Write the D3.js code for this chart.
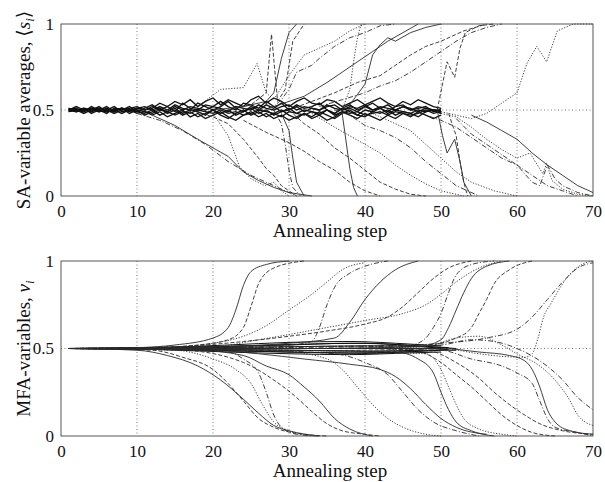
<!DOCTYPE html>
<html>
<head>
<meta charset="utf-8">
<script src="https://cdn.jsdelivr.net/npm/d3@7.9.0/dist/d3.min.js"></script>
<style>
  body { margin: 0; background: #fff; }
  svg text { font-family: "Liberation Serif", Tinos, "Times New Roman", Times, "DejaVu Serif", serif; fill: #111; }
</style>
</head>
<body>
<svg id="chart" width="605" height="482"></svg>
<script>
// x ticks and y ticks shared by both panels
const xTicks = [0, 10, 20, 30, 40, 50, 60, 70];
const yTicks = [0, 0.5, 1];

// SA: noisy band values at steps 1..50
const saBandSteps = d3.range(1, 51);
const saBand = [
  [0.50,0.51,0.49,0.52,0.50,0.48,0.51,0.50,0.52,0.49,0.51,0.53,0.50,0.52,0.49,0.54,0.51,0.50,0.53,0.52,0.55,0.52,0.50,0.54,0.53,0.51,0.55,0.52,0.49,0.50,0.53,0.51,0.52,0.54,0.50,0.48,0.51,0.53,0.50,0.52,0.54,0.51,0.49,0.52,0.53,0.50,0.52,0.51,0.50,0.49],
  [0.49,0.50,0.51,0.48,0.50,0.52,0.49,0.51,0.48,0.50,0.47,0.49,0.51,0.48,0.50,0.47,0.49,0.46,0.48,0.50,0.47,0.45,0.48,0.50,0.47,0.49,0.46,0.48,0.50,0.47,0.45,0.48,0.46,0.49,0.47,0.45,0.48,0.50,0.47,0.46,0.49,0.48,0.50,0.47,0.49,0.48,0.46,0.49,0.50,0.48],
  [0.51,0.49,0.50,0.51,0.49,0.50,0.48,0.50,0.51,0.52,0.50,0.51,0.54,0.52,0.55,0.53,0.56,0.52,0.55,0.57,0.53,0.56,0.54,0.52,0.56,0.58,0.54,0.57,0.55,0.52,0.55,0.57,0.54,0.53,0.56,0.55,0.52,0.54,0.56,0.53,0.55,0.57,0.54,0.52,0.55,0.53,0.56,0.54,0.52,0.51],
  [0.50,0.52,0.50,0.49,0.51,0.50,0.52,0.49,0.50,0.48,0.49,0.47,0.49,0.46,0.48,0.50,0.46,0.48,0.45,0.47,0.49,0.46,0.44,0.47,0.49,0.46,0.48,0.45,0.47,0.44,0.46,0.48,0.45,0.47,0.44,0.46,0.49,0.47,0.45,0.48,0.46,0.44,0.47,0.45,0.48,0.46,0.49,0.47,0.45,0.47],
  [0.50,0.49,0.51,0.50,0.52,0.49,0.50,0.51,0.49,0.51,0.52,0.50,0.52,0.50,0.53,0.51,0.50,0.54,0.52,0.50,0.52,0.55,0.51,0.49,0.52,0.50,0.53,0.51,0.54,0.50,0.52,0.49,0.51,0.50,0.52,0.53,0.50,0.51,0.49,0.52,0.50,0.51,0.53,0.50,0.52,0.51,0.49,0.51,0.50,0.50],
  [0.49,0.50,0.48,0.50,0.49,0.51,0.50,0.48,0.50,0.49,0.48,0.50,0.47,0.49,0.51,0.48,0.50,0.49,0.47,0.50,0.48,0.50,0.47,0.49,0.51,0.48,0.50,0.47,0.49,0.51,0.48,0.50,0.49,0.47,0.50,0.48,0.51,0.49,0.47,0.50,0.49,0.51,0.48,0.50,0.49,0.48,0.50,0.49,0.50,0.48],
  [0.51,0.50,0.50,0.49,0.51,0.50,0.49,0.51,0.50,0.51,0.50,0.52,0.51,0.49,0.52,0.50,0.52,0.51,0.50,0.52,0.51,0.49,0.52,0.51,0.50,0.53,0.51,0.50,0.52,0.53,0.50,0.52,0.51,0.50,0.53,0.51,0.50,0.52,0.51,0.53,0.50,0.52,0.51,0.50,0.52,0.50,0.51,0.52,0.49,0.50],
  [0.50,0.50,0.49,0.51,0.50,0.49,0.50,0.51,0.50,0.50,0.49,0.48,0.50,0.49,0.47,0.49,0.48,0.50,0.49,0.48,0.50,0.48,0.49,0.47,0.48,0.50,0.49,0.48,0.46,0.49,0.48,0.47,0.49,0.48,0.50,0.47,0.49,0.48,0.49,0.47,0.48,0.49,0.47,0.49,0.48,0.47,0.48,0.50,0.48,0.49]
];

// SA: variables leaving the band, [step, value]
const saPaths = [
  [[20,0.5],[24,0.52],[27,0.55],[28,0.6],[29,0.8],[30,0.95],[31,1]],
  [[22,0.5],[25,0.53],[27,0.6],[27.7,0.94],[28.5,0.55],[29.5,0.62],[30.5,0.9],[32,1]],
  [[18,0.52],[21,0.62],[24,0.63],[25.8,0.77],[27,0.6],[28,0.56],[30,0.7],[32,0.82],[34,0.86],[36,0.9],[38,0.96],[40,1]],
  [[26,0.5],[28,0.52],[29,0.56],[30,0.62],[31,0.72],[33,0.76],[34,0.8],[36,0.87],[38,0.92],[40,0.95],[42,0.99],[44,1]],
  [[28,0.52],[30,0.55],[32,0.58],[35,0.66],[37,0.72],[39,0.78],[41,0.84],[43,0.9],[45,0.95],[47,1]],
  [[30,0.5],[33,0.55],[36,0.6],[39,0.66],[42,0.7],[44,0.76],[46,0.82],[48,0.87],[50,0.9],[53,0.96],[56,1]],
  [[37,0.5],[38,0.62],[38.5,0.78],[39,0.92],[39.5,1]],
  [[34,0.52],[37,0.56],[40,0.6],[42,0.64],[44,0.67],[46,0.72],[48,0.78],[50,0.84],[52,0.9],[54,0.95],[56,0.98],[58,1]],
  [[38,0.53],[40,0.65],[41,0.82],[42,0.88],[43,0.92],[44,0.9],[46,0.95],[48,0.98],[50,1]],
  [[49.5,0.5],[50.8,0.78],[51.8,0.69],[52.5,0.86],[53.2,0.95],[55,0.99],[57,1]],
  [[50,0.49],[52,0.47],[54,0.45],[56,0.48],[58,0.54],[60,0.6],[61.3,0.77],[62.6,0.87],[63.9,0.78],[65.3,0.96],[67.4,1],[70,1]],
  [[10,0.48],[13,0.44],[16,0.38],[19,0.3],[22,0.2],[25,0.12],[27,0.08],[29,0.04],[31,0]],
  [[12,0.47],[15,0.41],[18,0.33],[20,0.28],[22,0.23],[24,0.14],[26,0.09],[28,0.05],[30,0.02],[33,0]],
  [[17,0.5],[20,0.46],[22,0.42],[24,0.33],[26,0.22],[27,0.16],[28,0.12],[29,0.06],[31,0]],
  [[20,0.48],[22,0.35],[23.5,0.17],[25,0.1],[26.8,0.06],[28,0.08],[29,0.03],[30,0]],
  [[28,0.5],[29,0.42],[29.5,0.3],[30,0.15],[30.5,0.05],[31.5,0]],
  [[29,0.48],[30,0.38],[30.5,0.22],[31,0.08],[32,0]],
  [[30,0.5],[32,0.42],[34,0.36],[36,0.28],[38,0.22],[40,0.15],[42,0.08],[44,0.04],[46,0.01],[48,0]],
  [[33,0.48],[36,0.4],[38,0.35],[40,0.3],[42,0.25],[44,0.18],[46,0.12],[48,0.07],[50,0.03],[53,0]],
  [[36,0.5],[38,0.47],[40,0.41],[42,0.38],[44,0.34],[46,0.28],[48,0.2],[50,0.13],[52,0.06],[55,0]],
  [[37,0.48],[37.5,0.32],[38,0.16],[38.5,0.05],[39,0]],
  [[24,0.44],[27,0.37],[30,0.31],[32,0.26],[34,0.2],[36,0.15],[38,0.08],[40,0.03],[42,0]],
  [[40,0.5],[42,0.46],[44,0.42],[46,0.38],[48,0.3],[50,0.22],[52,0.14],[54,0.08],[57,0.03],[60,0]],
  [[46,0.5],[48,0.47],[50,0.44],[52,0.4],[54,0.34],[56,0.28],[58,0.22],[60,0.18],[62,0.12],[64,0.06],[66,0.03],[68,0]],
  [[49.5,0.5],[50.2,0.35],[50.8,0.25],[51.8,0.33],[52.5,0.2],[53,0.08],[54,0]],
  [[51,0.48],[52,0.35],[52.5,0.2],[53,0.08],[53.5,0]],
  [[50,0.48],[52,0.46],[54,0.4],[56,0.33],[58,0.27],[60,0.22],[61.7,0.25],[63.4,0.13],[63.9,0.19],[64.6,0.09],[66,0.04],[68,0.01],[70,0]],
  [[52,0.45],[54,0.36],[56,0.3],[58,0.24],[60,0.18],[62,0.08],[63,0.06],[64,0.18],[65,0.1],[66,0.06],[68,0.02],[70,0]],
  [[54,0.47],[56,0.43],[58,0.38],[60,0.33],[62,0.25],[64,0.18],[66,0.12],[68,0.06],[70,0.02]]
];

// MFA: smooth band near 0.5
const mfaBand = [
  [[1,0.5],[10,0.5],[20,0.505],[30,0.51],[40,0.515],[48,0.51],[52,0.5]],
  [[1,0.5],[10,0.5],[20,0.495],[30,0.49],[40,0.485],[48,0.49],[52,0.49]],
  [[1,0.5],[10,0.502],[20,0.51],[30,0.52],[38,0.53],[45,0.52],[50,0.5]],
  [[1,0.5],[10,0.498],[20,0.49],[30,0.48],[38,0.475],[45,0.48],[50,0.49]],
  [[1,0.5],[12,0.505],[22,0.52],[30,0.535],[38,0.54],[46,0.525],[50,0.515]],
  [[1,0.5],[12,0.495],[22,0.48],[30,0.47],[38,0.465],[46,0.475],[50,0.48]],
  [[1,0.5],[15,0.5],[25,0.5],[35,0.5],[45,0.5],[50,0.5]],
  [[1,0.5],[14,0.503],[24,0.515],[32,0.525],[40,0.53],[47,0.515],[51,0.505]],
  [[1,0.5],[14,0.497],[24,0.485],[32,0.478],[40,0.472],[47,0.485],[51,0.495]]
];

// MFA: variables, [step, value]
const mfaPaths = [
  [[1,0.5],[10,0.505],[15,0.52],[20,0.56],[22,0.62],[23,0.72],[24,0.86],[25,0.94],[27,0.98],[30,1]],
  [[1,0.5],[12,0.505],[18,0.52],[22,0.55],[24,0.62],[25,0.74],[26,0.87],[28,0.96],[32,1]],
  [[1,0.5],[15,0.51],[20,0.53],[24,0.57],[27,0.63],[30,0.72],[33,0.81],[35,0.88],[37,0.95],[40,0.99]],
  [[1,0.5],[20,0.51],[30,0.52],[33,0.54],[34,0.62],[35,0.75],[36,0.85],[38,0.93],[40,0.97],[43,1]],
  [[1,0.5],[20,0.51],[30,0.53],[36,0.56],[38,0.65],[40,0.78],[42,0.88],[44,0.95],[47,1]],
  [[1,0.5],[15,0.51],[24,0.54],[30,0.57],[35,0.6],[40,0.64],[43,0.68],[45,0.74],[47,0.82],[49,0.9],[51,0.96],[54,1]],
  [[1,0.5],[20,0.51],[26,0.55],[35,0.62],[40,0.66],[45,0.7],[48,0.75],[50,0.81],[52,0.88],[55,0.96],[58,1]],
  [[1,0.5],[30,0.51],[46,0.52],[48,0.56],[49,0.62],[50,0.7],[51,0.82],[52,0.92],[54,0.98],[57,1]],
  [[1,0.5],[30,0.5],[47,0.51],[50,0.55],[51,0.62],[52,0.72],[53,0.82],[54,0.9],[56,0.97],[59,1]],
  [[1,0.5],[30,0.51],[48,0.52],[52,0.56],[54,0.62],[55,0.7],[56,0.78],[57,0.87],[59,0.95],[62,1]],
  [[1,0.5],[40,0.5],[50,0.5],[55,0.47],[58,0.455],[61,0.45],[62,0.47],[62.7,0.55],[63.5,0.68],[64.5,0.76],[66.5,0.9],[68.5,0.98],[70,1]],
  [[1,0.5],[40,0.51],[50,0.53],[56,0.56],[60,0.61],[62,0.68],[64,0.78],[66,0.88],[68,0.96],[70,0.99]],
  [[1,0.5],[10,0.49],[14,0.46],[18,0.4],[21,0.32],[24,0.21],[26,0.13],[28,0.06],[30,0.03],[34,0]],
  [[1,0.5],[12,0.49],[16,0.45],[20,0.38],[22,0.3],[24,0.2],[26,0.1],[28,0.05],[32,0.01],[35,0]],
  [[1,0.5],[15,0.49],[20,0.44],[23,0.38],[25,0.3],[26.5,0.18],[28,0.08],[30,0.03],[33,0]],
  [[1,0.5],[15,0.495],[22,0.48],[24,0.44],[26,0.36],[27,0.25],[28,0.12],[29,0.05],[31,0.01],[34,0]],
  [[1,0.5],[18,0.49],[24,0.46],[27,0.4],[30,0.35],[32,0.28],[34,0.2],[36,0.1],[38,0.04],[41,0]],
  [[1,0.5],[16,0.49],[24,0.42],[28,0.32],[31,0.22],[33,0.14],[35,0.07],[37,0.03],[40,0.01],[42,0]],
  [[1,0.5],[20,0.49],[30,0.48],[35,0.44],[37,0.38],[39,0.28],[41,0.18],[43,0.1],[45,0.05],[48,0.01],[50,0]],
  [[1,0.5],[25,0.49],[36,0.47],[40,0.42],[43,0.35],[45,0.25],[47,0.15],[49,0.08],[52,0.03],[55,0]],
  [[1,0.5],[30,0.49],[44,0.48],[47,0.44],[49,0.36],[50,0.25],[51,0.15],[52,0.08],[54,0.03],[57,0]],
  [[1,0.5],[30,0.49],[47,0.48],[50,0.42],[52,0.35],[54,0.28],[56,0.2],[58,0.12],[60,0.06],[62,0.02],[65,0]],
  [[1,0.5],[30,0.49],[48,0.47],[50,0.38],[51,0.28],[52,0.18],[53,0.1],[55,0.04],[58,0.01],[60,0]],
  [[1,0.5],[35,0.5],[50,0.49],[54,0.44],[58,0.4],[60,0.36],[62,0.3],[63,0.2],[64,0.1],[65,0.05],[68,0.02],[70,0]],
  [[1,0.5],[35,0.5],[50,0.5],[55,0.48],[59,0.46],[61,0.43],[62,0.38],[63,0.28],[64,0.15],[65,0.08],[67,0.03],[70,0.01]],
  [[1,0.5],[35,0.5],[48,0.49],[52,0.42],[55,0.33],[57,0.25],[59,0.18],[61,0.12],[63,0.07],[66,0.03],[70,0.01]],
  [[1,0.5],[35,0.5],[48,0.51],[52,0.56],[55,0.57],[58,0.52],[60,0.47],[63,0.4],[65,0.32],[67,0.2],[68,0.12],[70,0.06]],
  [[1,0.5],[35,0.5],[50,0.52],[54,0.55],[57,0.54],[60,0.5],[63,0.43],[66,0.32],[68,0.22],[70,0.15]],
  [[1,0.5],[20,0.49],[26,0.47],[32,0.44],[38,0.41],[42,0.38],[44,0.34],[46,0.27],[48,0.18],[50,0.1],[52,0.05],[56,0.01]]
];

const dashes = ['none', '4,2', '1.2,1.6', '5,2,1,2'];
const serif = '"Liberation Serif", Tinos, "Times New Roman", Times, "DejaVu Serif", serif';
const svg = d3.select('#chart');
const left = 61, right = 593;

function drawPanel(top, bottom, id, band, bandWidth, paths, curve, label) {
  let x = d3.scaleLinear().domain([0, 70]).range([left, right]);
  let y = d3.scaleLinear().domain([0, 1]).range([bottom, top]);
  let g = svg.append('g');

  g.append('clipPath').attr('id', id)
    .append('rect').attr('x', left).attr('y', top - 1)
    .attr('width', right - left).attr('height', bottom - top + 2);

  // dotted grid
  g.selectAll('.vg').data(xTicks.slice(1, -1)).join('line')
    .attr('x1', d => x(d)).attr('x2', d => x(d))
    .attr('y1', top).attr('y2', bottom)
    .attr('stroke', '#555').attr('stroke-width', 0.8).attr('stroke-dasharray', '1,2.5');
  g.append('line')
    .attr('x1', left).attr('x2', right).attr('y1', y(0.5)).attr('y2', y(0.5))
    .attr('stroke', '#555').attr('stroke-width', 0.8).attr('stroke-dasharray', '1,2.5');

  let lines = g.append('g').attr('clip-path', `url(#${id})`);
  let line = d3.line().x(d => x(d[0])).y(d => y(d[1])).curve(curve);

  band.forEach((b) => {
    lines.append('path')
      .attr('d', line(b))
      .attr('fill', 'none').attr('stroke', '#111').attr('stroke-width', bandWidth);
  });
  paths.forEach((p, i) => {
    lines.append('path')
      .attr('d', line(p))
      .attr('fill', 'none').attr('stroke', '#2a2a2a').attr('stroke-width', 0.9)
      .attr('stroke-dasharray', dashes[i % dashes.length]);
  });

  // frame
  g.append('rect')
    .attr('x', left).attr('y', top).attr('width', right - left).attr('height', bottom - top)
    .attr('fill', 'none').attr('stroke', '#444').attr('stroke-width', 0.9);

  let xAxis = g.append('g').attr('transform', `translate(0,${bottom})`)
    .call(d3.axisBottom(x).tickValues(xTicks).tickSize(0).tickPadding(9));
  xAxis.attr('font-family', null).attr('font-size', null);
  xAxis.select('.domain').remove();
  xAxis.selectAll('text').attr('font-size', 17).style('font-family', serif).attr('fill', '#111');

  let yAxis = g.append('g').attr('transform', `translate(${left},0)`)
    .call(d3.axisLeft(y).tickValues(yTicks).tickFormat(d => d === 0.5 ? '0.5' : d3.format('d')(d))
      .tickSize(0).tickPadding(7));
  yAxis.attr('font-family', null).attr('font-size', null);
  yAxis.select('.domain').remove();
  yAxis.selectAll('text').attr('font-size', 17).style('font-family', serif).attr('fill', '#111');

  g.append('text')
    .attr('x', (left + right) / 2 + 3).attr('y', bottom + 41)
    .attr('text-anchor', 'middle').attr('font-size', 19)
    .style('font-family', serif)
    .text('Annealing step');

  let yl = g.append('text')
    .attr('transform', `translate(30,${(top + bottom) / 2}) rotate(-90)`)
    .attr('text-anchor', 'middle').attr('font-size', 19)
    .style('font-family', serif);
  label(yl);
}

drawPanel(24, 196, 'clipA', saBand.map(b => b.map((v, i) => [saBandSteps[i], v])), 1.3, saPaths, d3.curveLinear, (t) => {
  t.append('tspan').text('SA-variable averages, \u27E8');
  t.append('tspan').attr('font-style', 'italic').text('s');
  t.append('tspan').attr('font-style', 'italic').attr('font-size', 13).attr('dy', 4).text('i');
  t.append('tspan').attr('dy', -4).text('\u27E9');
});

drawPanel(261, 436, 'clipB', mfaBand, 1.0, mfaPaths, d3.curveMonotoneX, (t) => {
  t.append('tspan').text('MFA-variables, ');
  t.append('tspan').attr('font-style', 'italic').text('v');
  t.append('tspan').attr('font-style', 'italic').attr('font-size', 13).attr('dy', 4).text('i');
});
</script>
</body>
</html>
